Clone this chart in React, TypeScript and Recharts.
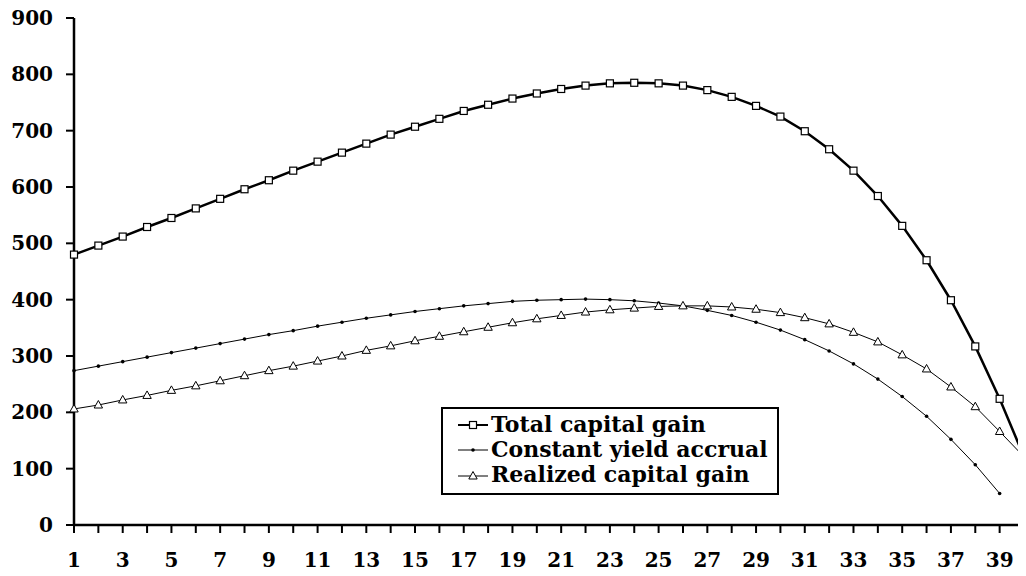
import React from 'react';
import { LineChart, Line, XAxis, YAxis, Legend } from 'recharts';

const periods: number[] = Array.from({ length: 40 }, (_, i) => i + 1);
const totalCapitalGain: number[] = [480, 496, 512, 529, 545, 562, 579, 596, 612, 629, 645, 661, 677, 693, 707, 721, 735, 746, 757, 766, 774, 780, 784, 785, 784, 780, 772, 760, 744, 725, 699, 667, 629, 584, 531, 470, 399, 317, 224, 121];
const constantYieldAccrual: (number | null)[] = [274, 282, 290, 298, 306, 314, 322, 330, 338, 345, 353, 360, 367, 373, 379, 384, 389, 393, 397, 399, 400, 401, 400, 398, 394, 389, 381, 372, 360, 346, 329, 309, 286, 259, 228, 193, 152, 107, 56, null];
const realizedCapitalGain: number[] = [206, 213, 222, 230, 239, 247, 256, 265, 274, 282, 291, 300, 310, 318, 327, 335, 343, 351, 359, 366, 372, 378, 382, 385, 388, 389, 389, 387, 383, 377, 368, 357, 342, 325, 302, 277, 245, 210, 166, 121];
const yTicks: number[] = [0, 100, 200, 300, 400, 500, 600, 700, 800, 900];
const seriesNames = ['Total capital gain', 'Constant yield accrual', 'Realized capital gain'];

const data = periods.map((p, i) => ({
  x: p,
  total: totalCapitalGain[i],
  constant: constantYieldAccrual[i],
  realized: realizedCapitalGain[i],
}));

const FONT = '"DejaVu Serif", serif';

const SquareDot = (props: any) => {
  const { cx, cy, index } = props;
  if (cx == null || cy == null) return <g key={`s${index}`} />;
  return <rect key={`s${index}`} x={cx - 3.5} y={cy - 3.5} width={7} height={7} fill="#fff" stroke="#000" strokeWidth={1.2} />;
};
const SmallDot = (props: any) => {
  const { cx, cy, index } = props;
  if (cx == null || cy == null) return <g key={`d${index}`} />;
  return <circle key={`d${index}`} cx={cx} cy={cy} r={1.8} fill="#000" />;
};
const TriDot = (props: any) => {
  const { cx, cy, index } = props;
  if (cx == null || cy == null) return <g key={`t${index}`} />;
  return <polygon key={`t${index}`} points={`${cx},${cy - 4.5} ${cx - 4.2},${cy + 3} ${cx + 4.2},${cy + 3}`} fill="#fff" stroke="#000" strokeWidth={1} />;
};

const LegendContent = () => {
  const icons = [
    <svg width={30} height={12} key="a"><line x1={0} y1={6} x2={30} y2={6} stroke="#000" strokeWidth={2} /><rect x={11.5} y={2.5} width={7} height={7} fill="#fff" stroke="#000" strokeWidth={1.2} /></svg>,
    <svg width={30} height={12} key="b"><line x1={0} y1={6} x2={30} y2={6} stroke="#000" strokeWidth={1} /><circle cx={15} cy={6} r={1.8} fill="#000" /></svg>,
    <svg width={30} height={12} key="c"><line x1={0} y1={7} x2={30} y2={7} stroke="#000" strokeWidth={1} /><polygon points="15,2.5 10.8,10 19.2,10" fill="#fff" stroke="#000" strokeWidth={1} /></svg>,
  ];
  return (
    <div style={{ border: '2px solid #000', width: 334, height: 81, boxSizing: 'content-box', padding: '3px 0 0 0', background: '#fff', fontFamily: FONT, fontWeight: 'bold', fontSize: 22, lineHeight: '25px', color: '#000' }}>
      {seriesNames.map((n, i) => (
        <div key={n} style={{ display: 'flex', alignItems: 'center', height: 25, whiteSpace: 'nowrap' }}>
          <div style={{ width: 15 }} />
          {icons[i]}
          <div style={{ width: 3 }} />
          <span>{n}</span>
        </div>
      ))}
    </div>
  );
};

export default function App() {
  return (
    <div style={{ margin: '-8px 0 0 -8px', width: 1026, height: 576 }}>
      <LineChart width={1026} height={576} data={data} margin={{ top: 18, right: 2, bottom: 0, left: 8 }}>
        <XAxis
          dataKey="x"
          interval={0}
          height={51}
          tickSize={8}
          tickMargin={20}
          tickFormatter={(v: any) => (Number(v) % 2 === 1 ? String(v) : '')}
          axisLine={{ stroke: '#000', strokeWidth: 2.5 }}
          tickLine={{ stroke: '#000', strokeWidth: 2 }}
          tick={{ fill: '#000', fontFamily: FONT, fontWeight: 'bold', fontSize: 20 }}
        />
        <YAxis
          domain={[0, 900]}
          ticks={yTicks}
          width={66}
          tickSize={8}
          tickMargin={13}
          interval={0}
          axisLine={{ stroke: '#000', strokeWidth: 2.5 }}
          tickLine={{ stroke: '#000', strokeWidth: 2 }}
          tick={{ fill: '#000', fontFamily: FONT, fontWeight: 'bold', fontSize: 20 }}
        />
        <Legend
          layout="horizontal"
          verticalAlign="middle"
          align="center"
          content={<LegendContent />}
          wrapperStyle={{ position: 'absolute', left: 441, top: 407, width: 'auto', height: 'auto' }}
        />
        <Line type="linear" dataKey="total" name={seriesNames[0]} stroke="#000" strokeWidth={2.5} dot={SquareDot} activeDot={false} isAnimationActive={false} />
        <Line type="linear" dataKey="constant" name={seriesNames[1]} stroke="#000" strokeWidth={1} dot={SmallDot} activeDot={false} isAnimationActive={false} />
        <Line type="linear" dataKey="realized" name={seriesNames[2]} stroke="#000" strokeWidth={1} dot={TriDot} activeDot={false} isAnimationActive={false} />
      </LineChart>
    </div>
  );
}
